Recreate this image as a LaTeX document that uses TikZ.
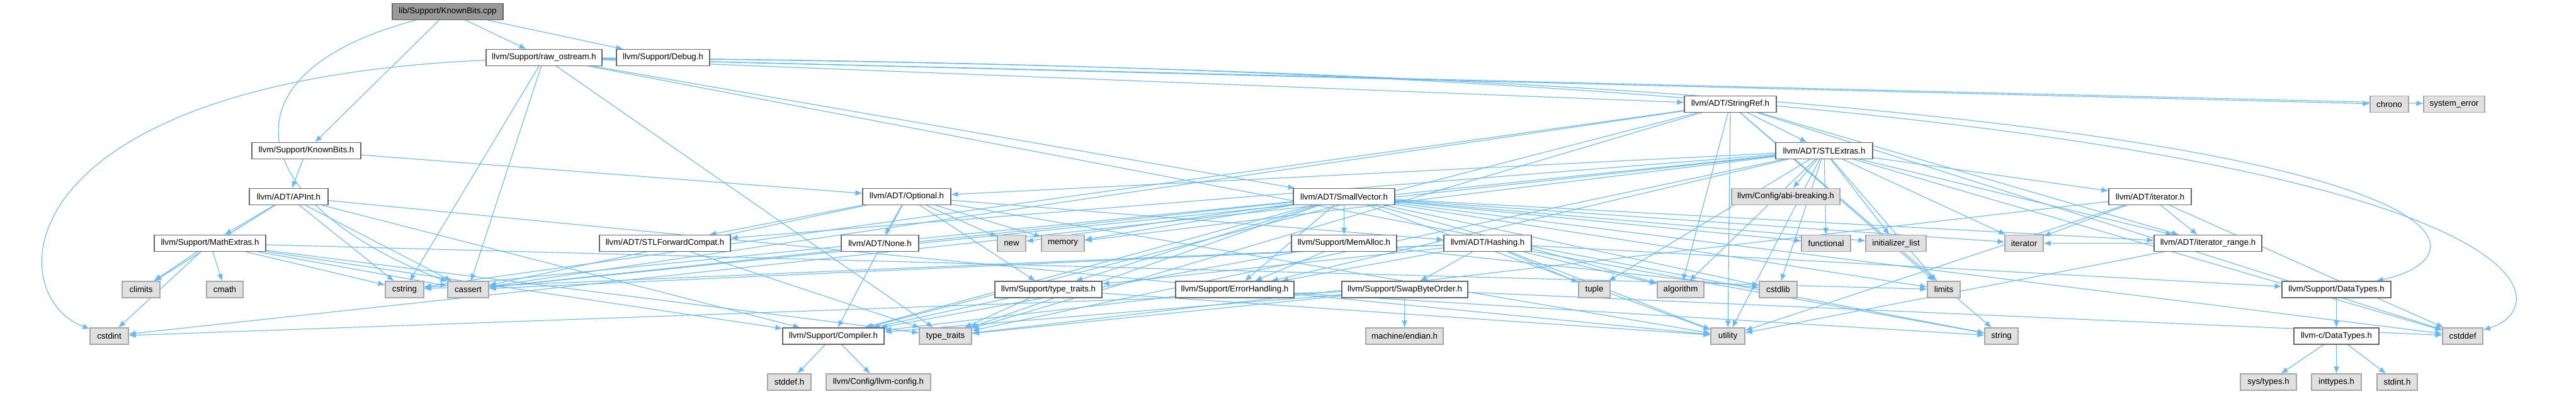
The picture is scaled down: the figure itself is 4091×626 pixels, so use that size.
\documentclass[tikz,border=0pt]{standalone}
\usepackage{fontspec}
\setmainfont{Liberation Sans}
\usetikzlibrary{arrows.meta}
\definecolor{edgec}{HTML}{63B8FF}
\definecolor{boxgray}{HTML}{E0E0E0}
\definecolor{rootgray}{HTML}{999999}
\pgfdeclarelayer{bg}
\pgfsetlayers{bg,main}
\begin{document}
\begin{tikzpicture}[x=1pt,y=-1pt,
  nd/.style={draw=black!60, fill=white, line width=1.1pt, minimum height=26pt, inner sep=0pt, font=\fontsize{13.3}{14}\selectfont},
  sys/.style={nd, draw=black!35, fill=boxgray},
  rootnd/.style={nd, fill=rootgray},
  dep/.style={draw=edgec, line width=1.1pt, -{Latex[length=11pt,width=9pt]}}]
\useasboundingbox (0,0) rectangle (4091,626);
% row 0
\node[rootnd, minimum width=176pt] (root) at (711,18.5) {lib/Support/KnownBits.cpp};
% row 1
\node[nd, minimum width=184pt] (raw) at (864,91.5) {llvm/Support/raw\_ostream.h};
\node[nd, minimum width=148pt] (debug) at (1053,91.5) {llvm/Support/Debug.h};
% row 2
\node[nd, minimum width=146pt] (sref) at (2748,165.5) {llvm/ADT/StringRef.h};
\node[sys, minimum width=61pt] (chrono) at (3794.5,165.5) {chrono};
\node[sys, minimum width=97pt] (syserr) at (3897.5,165.5) {system\_error};
% row 3
\node[nd, minimum width=173pt] (kb) at (486.5,239.5) {llvm/Support/KnownBits.h};
\node[nd, minimum width=154pt] (stlx) at (2897,239.5) {llvm/ADT/STLExtras.h};
% row 4
\node[nd, minimum width=125pt] (apint) at (458.5,312.5) {llvm/ADT/APInt.h};
\node[nd, minimum width=140pt] (opt) at (1440,312.5) {llvm/ADT/Optional.h};
\node[nd, minimum width=161pt] (svec) at (2134.5,312.5) {llvm/ADT/SmallVector.h};
\node[sys, minimum width=172pt] (abi) at (2836,312.5) {llvm/Config/abi-breaking.h};
\node[nd, minimum width=131pt] (iterh) at (3414.5,312.5) {llvm/ADT/iterator.h};
% row 5
\node[nd, minimum width=177pt] (math) at (333.5,386.5) {llvm/Support/MathExtras.h};
\node[nd, minimum width=208pt] (stlfc) at (1056,386.5) {llvm/ADT/STLForwardCompat.h};
\node[nd, minimum width=123pt] (none) at (1397.5,386.5) {llvm/ADT/None.h};
\node[sys, minimum width=45pt] (new) at (1606.5,386.5) {new};
\node[sys, minimum width=68pt] (memory) at (1688,386.5) {memory};
\node[nd, minimum width=167pt] (memalloc) at (2134.5,386.5) {llvm/Support/MemAlloc.h};
\node[nd, minimum width=139pt] (hashing) at (2362.5,386.5) {llvm/ADT/Hashing.h};
\node[sys, minimum width=78pt] (functional) at (2900,386.5) {functional};
\node[sys, minimum width=96pt] (initlist) at (3011,386.5) {initializer\_list};
\node[sys, minimum width=61pt] (iterator) at (3214.5,386.5) {iterator};
\node[nd, minimum width=171pt] (iterrange) at (3506.5,386.5) {llvm/ADT/iterator\_range.h};
% row 6
\node[sys, minimum width=60pt] (climits) at (224,460) {climits};
\node[sys, minimum width=58pt] (cmath) at (357,460) {cmath};
\node[sys, minimum width=61pt] (cstring) at (642.5,460) {cstring};
\node[sys, minimum width=65pt] (cassert) at (743.5,460) {cassert};
\node[nd, minimum width=170pt] (ttraitsh) at (1665,460) {llvm/Support/type\_traits.h};
\node[nd, minimum width=188pt] (errh) at (1961,460) {llvm/Support/ErrorHandling.h};
\node[nd, minimum width=200pt] (swap) at (2231,460) {llvm/Support/SwapByteOrder.h};
\node[sys, minimum width=50pt] (tuple) at (2532,460) {tuple};
\node[sys, minimum width=74pt] (algorithm) at (2669,460) {algorithm};
\node[sys, minimum width=60pt] (cstdlib) at (2824,460) {cstdlib};
\node[sys, minimum width=52pt] (limits) at (3087,460) {limits};
\node[nd, minimum width=173pt] (datatypes) at (3710.5,460) {llvm/Support/DataTypes.h};
% row 7
\node[sys, minimum width=61pt] (cstdint) at (173.5,534) {cstdint};
\node[nd, minimum width=161pt] (compiler) at (1323.5,534) {llvm/Support/Compiler.h};
\node[sys, minimum width=83pt] (ttraits) at (1501.5,534) {type\_traits};
\node[sys, minimum width=123pt] (endian) at (2230.5,534) {machine/endian.h};
\node[sys, minimum width=54pt] (utility) at (2744,534) {utility};
\node[sys, minimum width=53pt] (string) at (3178.5,534) {string};
\node[nd, minimum width=135pt] (cdatatypes) at (3710.5,534) {llvm-c/DataTypes.h};
\node[sys, minimum width=64pt] (cstddef) at (3911,534) {cstddef};
% row 8
\node[sys, minimum width=69pt] (stddef) at (1253.5,607) {stddef.h};
\node[sys, minimum width=166pt] (llvmconfig) at (1395,607) {llvm/Config/llvm-config.h};
\node[sys, minimum width=89pt] (systypes) at (3602.5,607) {sys/types.h};
\node[sys, minimum width=79pt] (inttypes) at (3710.5,607) {inttypes.h};
\node[sys, minimum width=64pt] (stdint) at (3807,607) {stdint.h};

\begin{pgfonlayer}{bg}
\foreach \t in {kb,raw,debug} \draw[dep] (root) -- (\t);
\draw[dep] (root) .. controls (330,120) and (400,330) .. (cassert);
\foreach \t in {apint,opt} \draw[dep] (kb) -- (\t);
\foreach \t in {math,compiler,cassert,climits,cstring,utility} \draw[dep] (apint) -- (\t);
\foreach \t in {compiler,cassert,climits,cmath,cstdint,cstring,limits,ttraits} \draw[dep] (math) -- (\t);
\foreach \t in {hashing,none,stlfc,compiler,ttraitsh,cassert,memory,new,utility} \draw[dep] (opt) -- (\t);
\foreach \t in {svec,sref,cassert,chrono,cstring,string,syserr,ttraits} \draw[dep] (raw) -- (\t);
\draw[dep] (raw) .. controls (0,130) and (0,470) .. (cstdint);
\draw[dep] (raw) .. controls (4085,115) and (4090,480) .. (cstddef);
\draw[dep] (raw) .. controls (3985,120) and (3990,400) .. (datatypes);
\foreach \t in {stlx,iterrange,compiler,algorithm,cassert,cstddef,cstring,limits,string,ttraits,utility} \draw[dep] (sref) -- (\t);
\foreach \t in {opt,stlfc,iterh,iterrange,abi,errh,algorithm,cassert,cstddef,cstdint,cstdlib,functional,initlist,iterator,limits,memory,tuple,ttraits,utility} \draw[dep] (stlx) -- (\t);
\foreach \t in {iterrange,compiler,errh,memalloc,ttraitsh,algorithm,cassert,cstddef,cstdlib,cstring,functional,initlist,iterator,limits,memory,new,ttraits,utility} \draw[dep] (svec) -- (\t);
\foreach \t in {datatypes,errh,swap,ttraitsh,algorithm,cassert,cstring,string,tuple,utility} \draw[dep] (hashing) -- (\t);
\foreach \t in {compiler,cstddef,cstdint,ttraits,endian} \draw[dep] (swap) -- (\t);
\foreach \t in {compiler,errh,cstdlib} \draw[dep] (memalloc) -- (\t);
\foreach \t in {compiler,string} \draw[dep] (errh) -- (\t);
\foreach \t in {compiler,ttraits,utility} \draw[dep] (ttraitsh) -- (\t);
\draw[dep] (stlfc) -- (ttraits);
\foreach \t in {iterrange,cstddef,iterator,ttraits,utility} \draw[dep] (iterh) -- (\t);
\foreach \t in {iterator,utility} \draw[dep] (iterrange) -- (\t);
\draw[dep] (datatypes) -- (cdatatypes);
\foreach \t in {inttypes,stdint,systypes} \draw[dep] (cdatatypes) -- (\t);
\foreach \t in {llvmconfig,stddef} \draw[dep] (compiler) -- (\t);
\end{pgfonlayer}
\end{tikzpicture}
\end{document}
